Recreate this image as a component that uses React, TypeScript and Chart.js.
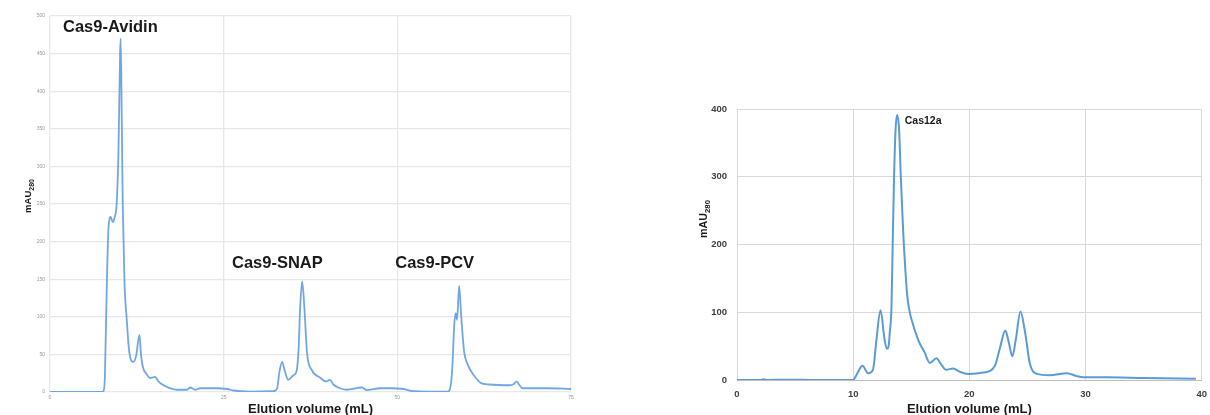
import React, { useEffect, useRef } from 'react';
import { Chart, registerables } from 'chart.js';

Chart.register(...registerables);

const FONT = '"Liberation Sans", Arial, sans-serif';

// ---- Left chromatogram (Cas9 fusions) ----
const leftVolumes = [
  0, 5, 7.3, 7.68, 7.9, 8.17, 8.4, 8.55, 8.74, 9.03, 9.3, 9.6, 9.85, 10.09, 10.18, 10.33, 10.47, 10.71, 11.05, 11.43,
  12.0, 12.4, 12.87, 13.1, 13.35, 13.9, 14.4, 15.13, 15.6, 16.0, 16.8, 18.3, 19.7, 20.2, 20.9, 21.6, 24.0, 25.5, 26.4,
  28.8, 32.2, 32.7, 33.0, 33.4, 33.8, 34.3, 35.0, 35.5, 35.8, 36.0, 36.3, 36.6, 37.0, 37.7, 38.9, 39.7, 40.3,
  40.8, 41.5, 42.7, 44.9, 45.6, 47.5, 49.0, 50.9, 52.3, 57.2, 57.5, 57.9, 58.2, 58.4, 58.6, 58.9, 59.2, 59.6,
  60.2, 60.8, 61.2, 62.0, 63.2, 66.3, 66.8, 67.2, 67.6, 68.0, 71.6, 75,
];
const leftAbs = [
  0, 0, 0, 1, 20, 140, 215, 229, 233, 226, 232, 251, 317, 450, 470, 362, 251, 149, 96, 52,
  40, 48, 76, 50, 34, 24, 18.6, 20, 14, 11, 7, 3, 3, 6, 3, 5, 5, 4, 2,
  0.5, 1, 5, 25, 40, 28, 16, 22, 28, 60, 110, 147, 115, 52, 29, 19, 14, 16,
  10, 6, 3, 6, 2.5, 5, 5, 4, 1, 0.3, 2, 30, 90, 105, 96, 141, 100, 55,
  35, 25, 20, 12, 10, 9, 11, 14, 9, 5, 5, 4,
];
const leftPeakNames = ['Cas9-Avidin', 'Cas9-SNAP', 'Cas9-PCV'];
const leftPeakAnchorX = [1.87, 26.2, 49.7];
const leftPeakAnchorY = [479, 165, 165];

// ---- Right chromatogram (Cas12a) ----
const rightVolumes = [
  0, 2.0, 2.3, 2.6, 4, 7, 10.0, 10.3, 10.8, 11.28, 11.7, 12.0, 12.35, 12.7, 12.9, 13.05, 13.15, 13.3, 13.4, 13.52,
  13.65, 13.78, 13.95, 14.1, 14.25, 14.36, 14.5, 14.65, 14.88, 15.1, 15.39, 15.7, 16.17, 16.4, 16.6, 17.17, 17.5,
  18.0, 18.6, 19.2, 19.9, 21.2, 22.2, 22.6, 23.1, 23.4, 23.7, 24.0, 24.4, 24.8, 25.2, 25.8, 26.9, 28.4, 29.2,
  29.8, 31.8, 35, 39.5,
];
const rightAbs = [
  0, 0, 1.2, 0, 0.5, 0, 0, 8, 21, 10, 15, 59, 103, 60, 46, 50, 70, 110, 200, 300,
  370, 391, 370, 300, 240, 200, 160, 125, 99, 85, 69, 55, 40, 30, 25, 32, 25,
  15, 17, 12, 9, 11, 21, 45, 73, 55, 35, 60, 101, 70, 25, 9, 7, 10, 6,
  4, 4, 3, 2,
];
const rightPeakNames = ['Cas12a'];
const rightPeakAnchorX = [14.44];
const rightPeakAnchorY = [378];

const xTickStepLeft = 25;
const yTickStepLeft = 50;
const xTickStepRight = 10;
const yTickStepRight = 100;

function yTitlePlugin(cfg: any) {
  return {
    id: 'ytitle',
    afterDraw(chart: any) {
      const ctx = chart.ctx;
      ctx.save();
      ctx.translate(cfg.x, cfg.y);
      ctx.rotate(-Math.PI / 2);
      ctx.fillStyle = cfg.color;
      ctx.textBaseline = 'alphabetic';
      ctx.textAlign = 'left';
      const mainFont = `bold ${cfg.size}px ${FONT}`;
      const subFont = `bold ${cfg.subSize}px ${FONT}`;
      ctx.font = mainFont;
      const w1 = ctx.measureText('mAU').width;
      ctx.font = subFont;
      const w2 = ctx.measureText('280').width;
      const x0 = -(w1 + w2) / 2;
      ctx.font = mainFont;
      ctx.fillText('mAU', x0, 0);
      ctx.font = subFont;
      ctx.fillText('280', x0 + w1, cfg.subDrop);
      ctx.restore();
    },
  };
}

function labelPlugin(names: string[], xs: number[], ys: number[], font: string, color: string) {
  return {
    id: 'peakLabels',
    afterDatasetsDraw(chart: any) {
      const ctx = chart.ctx;
      const sx = chart.scales.x;
      const sy = chart.scales.y;
      ctx.save();
      ctx.font = font;
      ctx.fillStyle = color;
      ctx.textAlign = 'left';
      ctx.textBaseline = 'alphabetic';
      names.forEach((n, i) => {
        ctx.fillText(n, sx.getPixelForValue(xs[i]), sy.getPixelForValue(ys[i]));
      });
      ctx.restore();
    },
  };
}

function toPoints(xs: number[], ys: number[]) {
  return xs.map((x, i) => ({ x, y: ys[i] }));
}

function LeftChart() {
  const ref = useRef<HTMLCanvasElement>(null);
  useEffect(() => {
    const chart = new Chart(ref.current!, {
      type: 'line',
      data: {
        datasets: [
          {
            data: toPoints(leftVolumes, leftAbs),
            borderColor: 'rgba(104,162,224,0.95)',
            borderWidth: 1.8,
            pointRadius: 0,
            cubicInterpolationMode: 'monotone',
            fill: false,
          },
        ],
      },
      options: {
        animation: false,
        responsive: false,
        devicePixelRatio: 1,
        layout: { padding: { left: 0, right: 29, top: 16, bottom: 0 } },
        plugins: { legend: { display: false }, tooltip: { enabled: false } },
        scales: {
          x: {
            type: 'linear',
            min: 0,
            max: 75,
            ticks: { stepSize: xTickStepLeft, font: { size: 5, family: FONT }, color: '#999', padding: 3, maxRotation: 0 },
            grid: { color: '#e8e8e8', lineWidth: 1.3, drawTicks: false },
            border: { display: false },
            title: {
              display: true,
              text: 'Elution volume (mL)',
              font: { size: 13, weight: 'bold', family: FONT, lineHeight: 1 },
              color: '#1a1a1a',
              padding: { top: 0, bottom: -1 },
            },
            afterFit: (s: any) => { s.height = 23; },
          },
          y: {
            min: 0,
            max: 500,
            ticks: { stepSize: yTickStepLeft, font: { size: 5, family: FONT }, color: '#999', padding: 5 },
            grid: { color: '#e8e8e8', lineWidth: 1.3, drawTicks: false },
            border: { display: false },
            afterFit: (s: any) => { s.width = 50; },
          },
        },
      } as any,
      plugins: [
        yTitlePlugin({ x: 31, y: 196, size: 9.5, subSize: 7, subDrop: 3, color: '#1a1a1a' }),
        labelPlugin(leftPeakNames, leftPeakAnchorX, leftPeakAnchorY, `bold 16.5px ${FONT}`, '#1a1a1a'),
      ],
    });
    return () => chart.destroy();
  }, []);
  return <canvas ref={ref} width={600} height={415} style={{ display: 'block' }} />;
}

function RightChart() {
  const ref = useRef<HTMLCanvasElement>(null);
  useEffect(() => {
    const chart = new Chart(ref.current!, {
      type: 'line',
      data: {
        datasets: [
          {
            data: toPoints(rightVolumes, rightAbs),
            borderColor: '#5b9bd5',
            borderWidth: 2,
            pointRadius: 0,
            cubicInterpolationMode: 'monotone',
            fill: false,
          },
        ],
      },
      options: {
        animation: false,
        responsive: false,
        devicePixelRatio: 1,
        layout: { padding: { left: 0, right: 0, top: 109, bottom: 0 } },
        plugins: { legend: { display: false }, tooltip: { enabled: false } },
        scales: {
          x: {
            type: 'linear',
            min: 0,
            max: 40,
            ticks: { stepSize: xTickStepRight, font: { size: 9.5, weight: 'bold', family: FONT }, color: '#404040', padding: 9, maxRotation: 0 },
            grid: { color: '#d9d9d9', lineWidth: 1, drawTicks: false },
            border: { color: '#bfbfbf', width: 1 },
            title: {
              display: true,
              text: 'Elution volume (mL)',
              font: { size: 13, weight: 'bold', family: FONT, lineHeight: 1 },
              color: '#1a1a1a',
              padding: { top: 0, bottom: -1 },
            },
            afterFit: (s: any) => { s.height = 35; },
          },
          y: {
            min: 0,
            max: 400,
            ticks: { stepSize: yTickStepRight, font: { size: 9.5, weight: 'bold', family: FONT }, color: '#404040', padding: 10 },
            grid: { color: '#d9d9d9', lineWidth: 1, drawTicks: false },
            border: { display: false },
            afterFit: (s: any) => { s.width = 127; },
          },
        },
      } as any,
      plugins: [
        yTitlePlugin({ x: 96.5, y: 219, size: 10.7, subSize: 7.8, subDrop: 3, color: '#1a1a1a' }),
        labelPlugin(rightPeakNames, rightPeakAnchorX, rightPeakAnchorY, `bold 10.5px ${FONT}`, '#1a1a1a'),
      ],
    });
    return () => chart.destroy();
  }, []);
  return <canvas ref={ref} width={606} height={415} style={{ display: 'block' }} />;
}

export default function App() {
  return (
    <div style={{ position: 'absolute', left: 0, top: 0, width: 1210, height: 415, overflow: 'hidden', background: '#fff' }}>
      <div style={{ position: 'absolute', left: 0, top: 0 }}>
        <LeftChart />
      </div>
      <div style={{ position: 'absolute', left: 610, top: 0 }}>
        <RightChart />
      </div>
    </div>
  );
}
